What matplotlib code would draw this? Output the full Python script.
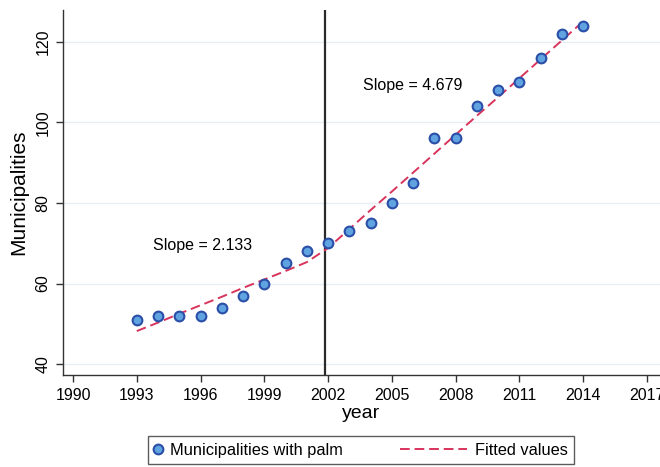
import matplotlib
matplotlib.use("Agg")
import matplotlib.pyplot as plt
from matplotlib.lines import Line2D

plt.rcParams['font.family'] = ['Liberation Sans', 'DejaVu Sans']

# data
years = [1993, 1994, 1995, 1996, 1997, 1998, 1999, 2000, 2001, 2002, 2003,
         2004, 2005, 2006, 2007, 2008, 2009, 2010, 2011, 2012, 2013, 2014]
municipalities = [51, 52, 52, 52, 54, 57, 60, 65, 68, 70, 73,
                  75, 80, 85, 96, 96, 104, 108, 110, 116, 122, 124]
fitted = [48.2, 50.3, 52.5, 54.6, 56.7, 58.9, 61.0, 63.1, 65.3, 68.8, 73.5,
          78.2, 82.8, 87.5, 92.2, 96.9, 101.6, 106.2, 110.9, 115.6, 120.3, 125.0]
break_year = 2001.85
xticks = [1990, 1993, 1996, 1999, 2002, 2005, 2008, 2011, 2014, 2017]
yticks = [40, 60, 80, 100, 120]

fit_color = '#d8345c'
fill_color = '#5fa3e0'
edge_color = '#2b4fa8'


class LongDash:
    # dashed legend key that reaches further left than the handle box
    def legend_artist(self, legend, orig_handle, fontsize, handlebox):
        x0, y0 = handlebox.xdescent, handlebox.ydescent
        w, h = handlebox.width, handlebox.height
        line = Line2D([x0 + w - 4.1 * fontsize, x0 + w], [y0 + h / 2, y0 + h / 2],
                      color=fit_color, lw=1.4, dashes=(5, 2.5))
        handlebox.add_artist(line)
        return line


fig = plt.figure(figsize=(6.6, 4.67), dpi=100)
ax = fig.add_axes([0.0955, 0.197, 0.9045, 0.782])

for t in yticks:
    ax.axhline(t, color='#e6eef3', lw=1.0, zorder=0)

ax.axvline(break_year, color='#2a2a2a', lw=1.6, zorder=1)
ln, = ax.plot(years, fitted, color=fit_color, lw=1.4, dashes=(5, 2.5), zorder=2)
sc, = ax.plot(years, municipalities, 'o', ms=7, mfc=fill_color, mec=edge_color,
              mew=1.5, zorder=3)

ax.text(1996.1, 69.5, 'Slope = 2.133', fontsize=11.5, ha='center', va='center')
ax.text(2006.0, 109.2, 'Slope = 4.679', fontsize=11.5, ha='center', va='center')

ax.set_xlim(1989.53, 2017.62)
ax.set_ylim(37.3, 127.9)
ax.set_xticks(xticks)
ax.set_yticks(yticks)
ax.set_yticklabels([str(t) for t in yticks], rotation=90, va='center')
ax.tick_params(labelsize=11.5, length=5, width=1, color='#333333', pad=4)
for s in ['top', 'right']:
    ax.spines[s].set_visible(False)
for s in ['left', 'bottom']:
    ax.spines[s].set_color('#333333')
    ax.spines[s].set_linewidth(1.0)

ax.set_xlabel('year', fontsize=14, labelpad=2)
ax.set_ylabel('Municipalities', fontsize=15, labelpad=5)

fig.legend([sc, ln], ['Municipalities with palm', 'Fitted values'],
           handler_map={ln: LongDash()}, loc='center',
           bbox_to_anchor=(0.547, 0.036), ncol=2, fontsize=11.8,
           handlelength=0.5, handletextpad=0.45, columnspacing=7.1,
           frameon=True, fancybox=False, edgecolor='#333333',
           borderpad=0.4, borderaxespad=0.0, numpoints=1)
fig.legends[0].get_frame().set_linewidth(1.0)

fig.savefig('out.png', dpi=100)
